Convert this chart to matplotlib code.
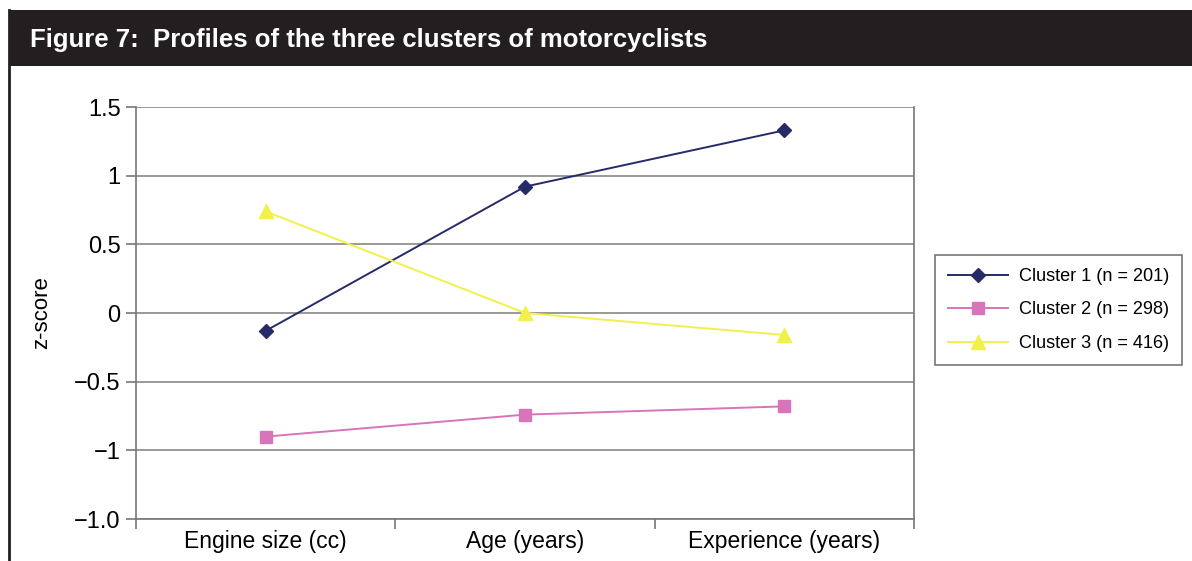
import matplotlib
matplotlib.use("Agg")
import matplotlib.pyplot as plt
from matplotlib.patches import Rectangle
from matplotlib.lines import Line2D

categories = ["Engine size (cc)", "Age (years)", "Experience (years)"]
cluster1 = [-0.13, 0.92, 1.33]
cluster2 = [-0.90, -0.74, -0.68]
cluster3 = [0.74, 0.00, -0.16]
series_labels = ["Cluster 1 (n = 201)", "Cluster 2 (n = 298)", "Cluster 3 (n = 416)"]
ytick_values = [1.5, 1.0, 0.5, 0.0, -0.5, -1.0, -1.5]
ytick_labels = ["1.5", "1", "0.5", "0", "\u22120.5", "\u22121", "\u22121.0"]

plt.rcParams['font.family'] = ['Liberation Sans', 'DejaVu Sans']

W, H = 1192, 561
fig = plt.figure(figsize=(W / 100, H / 100), dpi=100)

# Header bar
fig.patches.append(Rectangle((10 / W, (H - 66) / H), (W - 10) / W, 56 / H,
                             transform=fig.transFigure, facecolor="#231f20",
                             edgecolor="none", zorder=0))
fig.text(30 / W, (H - 40) / H, "Figure 7:  Profiles of the three clusters of motorcyclists",
         color="white", fontsize=18.5, fontweight="bold",
         family=['Liberation Sans Narrow', 'Liberation Sans', 'DejaVu Sans'],
         va="center", ha="left", transform=fig.transFigure)
fig.lines.append(Line2D([8.5 / W, 8.5 / W], [0, (H - 10) / H], transform=fig.transFigure,
                        color="#231f20", lw=2))

ax = fig.add_axes([136 / W, 42 / H, 778 / W, 412 / H])
x = list(range(len(categories)))
colors = ["#262a66", "#d874b8", "#f2f04a"]
markers = ["D", "s", "^"]
msizes = [7.5, 8, 10]
for ys, c, m, ms, lab in zip([cluster1, cluster2, cluster3], colors, markers, msizes, series_labels):
    ax.plot(x, ys, color=c, marker=m, markersize=ms, lw=1.4, label=lab,
            markerfacecolor=c, markeredgecolor=c, zorder=3)

ax.set_xlim(-0.5, 2.5)
ax.set_ylim(-1.5, 1.5)
ax.set_yticks(ytick_values)
ax.set_yticklabels(ytick_labels, fontsize=17)
ax.yaxis.grid(True, color="#888888", lw=1.2)
ax.set_axisbelow(True)
ax.set_xticks(x)
ax.set_xticklabels(categories, fontsize=16.5)
ax.tick_params(axis="x", which="major", length=0, pad=8)
ax.set_xticks([-0.5, 0.5, 1.5, 2.5], minor=True)
ax.tick_params(axis="x", which="minor", length=7, color="#777777", width=1.2)
ax.tick_params(axis="y", length=7, color="#777777", width=1.2, pad=4)
for s in ["left", "bottom", "right", "top"]:
    ax.spines[s].set_color("#777777")
    ax.spines[s].set_linewidth(1.2)
ax.spines["top"].set_visible(False)
ax.set_ylabel("z-score", fontsize=16, labelpad=16)

leg = fig.legend(loc="center left", bbox_to_anchor=(935 / W, (H - 310) / H),
                 fontsize=13.1, frameon=True, fancybox=False, edgecolor="#555555",
                 handlelength=3.3, borderpad=0.7, labelspacing=0.9, handletextpad=0.6,
                 borderaxespad=0)
leg.get_frame().set_linewidth(1.2)

fig.savefig("out.png", dpi=100, facecolor="white")
